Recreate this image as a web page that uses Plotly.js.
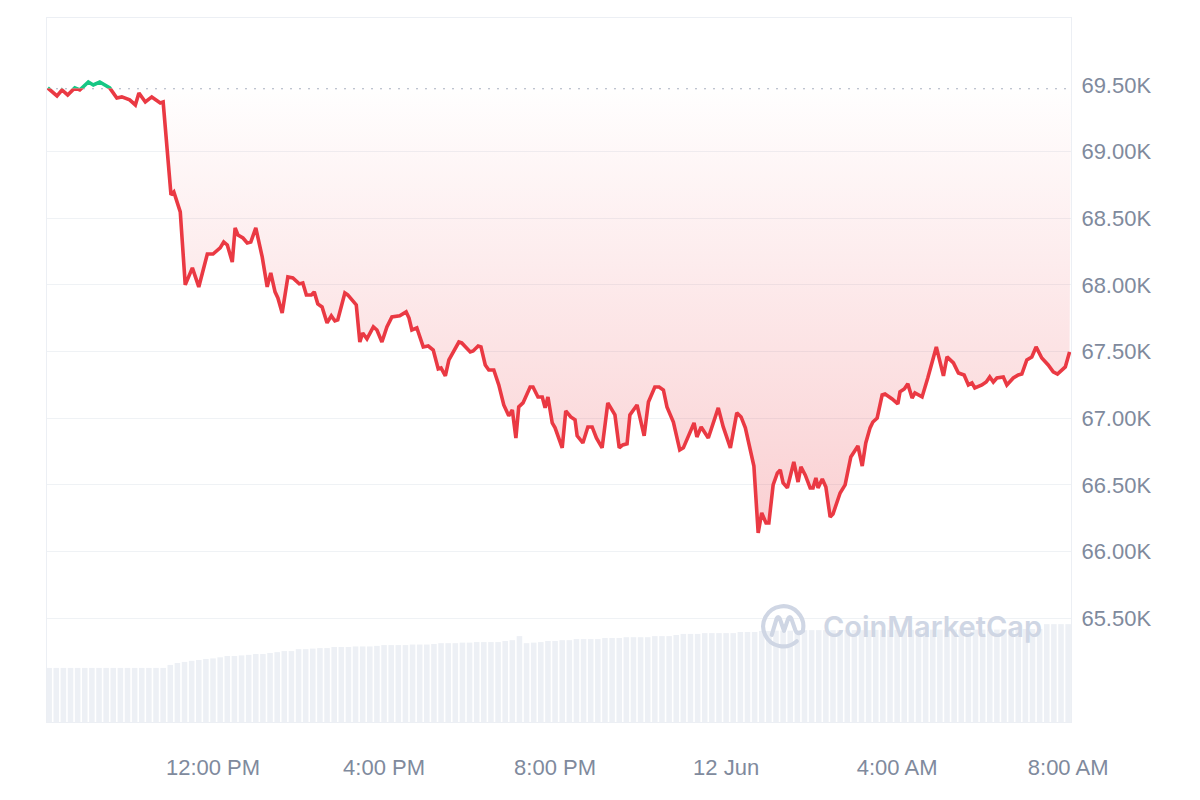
<!DOCTYPE html>
<html>
<head>
<meta charset="utf-8">
<script src="https://cdn.plot.ly/plotly-3.0.1.min.js"></script>
<style>html,body{margin:0;padding:0;background:#fff;}#chart{width:1200px;height:800px;}</style>
</head>
<body>
<div id="chart"></div>
<script>
// ---- Data ----
const openPrice = 69475;
const timesJun11 = [
 "08:08","08:21","08:28","08:36","08:46","08:53","09:05","09:12","09:21","09:28",
 "09:35","09:45","09:52","10:03","10:11","10:16","10:25","10:34","10:46","10:50",
 "10:55","11:01","11:05","11:14","11:21","11:31","11:40","11:52","12:00","12:10",
 "12:15","12:20","12:27","12:31","12:35","12:42","12:48","12:53","13:00","13:09",
 "13:16","13:21","13:27","13:31","13:37","13:45","13:52","14:01","14:06","14:11",
 "14:18","14:22","14:27","14:33","14:40","14:46","14:51","14:55","15:05","15:09",
 "15:21","15:26","15:30","15:36","15:45","15:50","15:57","16:04","16:11","16:22",
 "16:31","16:35","16:39","16:46","16:55","17:02","17:09","17:16","17:20","17:26",
 "17:31","17:35","17:45","17:49","18:01","18:05","18:12","18:16","18:22","18:27",
 "18:34","18:41","18:48","18:55","19:00","19:05","19:09","19:15","19:25","19:29",
 "19:36","19:42","19:46","19:50","19:56","20:00","20:10","20:15","20:22","20:28",
 "20:31","20:39","20:46","20:52","20:58","21:06","21:14","21:24","21:30","21:35",
 "21:41","21:45","21:55","22:05","22:11","22:20","22:26","22:32","22:37","22:46",
 "22:55","23:00","23:15","23:19","23:25","23:35","23:49","23:56"
];
const pricesJun11 = [
 69478,69418,69462,69425,69478,69462,69522,69500,69522,69500,
 69478,69402,69410,69388,69350,69440,69372,69410,69365,69372,
 69035,68675,68698,68548,68000,68128,67985,68232,68232,68278,
 68322,68300,68172,68428,68375,68352,68315,68322,68428,68210,
 67985,68090,67948,67902,67790,68060,68052,68008,68015,67925,
 67925,67948,67858,67835,67715,67768,67730,67738,67940,67925,
 67850,67572,67640,67595,67685,67662,67572,67685,67760,67768,
 67798,67752,67662,67678,67535,67542,67512,67370,67378,67318,
 67438,67475,67572,67565,67498,67505,67542,67535,67400,67362,
 67362,67250,67100,67018,67062,66852,67085,67115,67235,67235,
 67160,67160,67078,67160,66965,66928,66778,67055,67010,66988,
 66868,66815,66935,66935,66852,66778,67115,67025,66778,66800,
 66808,67025,67100,66868,67122,67235,67235,67212,67085,66972,
 66762,66778,66965,66860,66935,66852,67078,66935
];
const timesJun12 = [
 "00:06","00:15","00:21","00:27","00:31","00:39","00:45","00:50","00:56","01:00",
 "01:06","01:12","01:16","01:20","01:26","01:35","01:41","01:45","01:51","01:58",
 "02:02","02:06","02:09","02:15","02:20","02:26","02:30","02:36","02:40","02:47",
 "02:55","03:05","03:11","03:16","03:22","03:26","03:32","03:39","03:43","03:53",
 "04:01","04:04","04:10","04:15","04:21","04:25","04:35","04:43","04:55","05:05",
 "05:10","05:19","05:26","05:34","05:40","05:45","05:49","05:59","06:05","06:10",
 "06:15","06:20","06:29","06:34","06:43","06:50","06:55","07:02","07:09","07:15",
 "07:23","07:32","07:39","07:45","07:52","07:56","08:02"
];
const pricesJun12 = [
 66778,67040,67010,66928,66838,66642,66140,66290,66215,66215,
 66500,66590,66612,66515,66478,66672,66522,66635,66575,66478,
 66478,66552,66478,66545,66485,66260,66282,66388,66440,66500,
 66710,66792,66642,66815,66928,66972,67002,67175,67182,67145,
 67108,67198,67220,67258,67152,67190,67160,67302,67535,67318,
 67460,67415,67340,67325,67250,67265,67228,67250,67272,67310,
 67272,67302,67310,67250,67302,67325,67332,67438,67460,67535,
 67452,67400,67348,67332,67370,67385,67498
];
// 24h volume (billions USD), one bar per 10 minutes starting 08:10
const volumeStart = "2024-06-11T08:10:00";
const volumeBillions = [
 19.9,19.9,19.9,19.9,19.9,19.9,19.9,19.9,19.9,19.9,
 19.9,19.9,19.9,19.9,19.9,19.9,19.9,21.0,21.7,22.1,
 22.5,22.8,23.2,23.4,23.8,24.3,24.3,24.5,24.7,25.0,
 25.0,25.4,25.7,26.1,26.1,26.8,26.8,27.0,27.2,27.2,
 27.6,27.6,27.6,27.8,27.8,27.8,28.0,28.3,28.3,28.3,
 28.3,28.5,28.5,28.5,28.7,29.0,29.0,29.0,29.2,29.2,
 29.4,29.4,29.4,29.4,29.8,30.1,31.6,29.0,29.2,29.4,
 29.8,29.8,30.1,30.1,30.5,30.5,30.5,30.5,30.9,30.9,
 30.9,31.2,31.2,31.2,31.2,31.6,31.6,31.6,32.0,32.4,
 32.4,32.4,32.7,32.7,32.7,32.7,32.7,33.1,33.1,33.1,
 33.5,33.5,33.6,33.6,33.6,33.8,33.8,33.8,33.8,33.8,
 33.8,33.8,33.8,33.8,33.8,33.8,33.9,33.9,33.9,33.9,
 33.9,33.9,34.0,34.0,34.0,34.0,34.0,34.0,34.0,34.0,
 34.0,34.0,34.0,34.0,34.2,34.2,34.2,34.2,34.2,34.2,
 36.0,36.0,36.0,36.0
];
const yTickVals = [65500,66000,66500,67000,67500,68000,68500,69000,69500];
const yTickText = ["65.50K","66.00K","66.50K","67.00K","67.50K","68.00K","68.50K","69.00K","69.50K"];
const xTickVals = ["2024-06-11 12:00","2024-06-11 16:00","2024-06-11 20:00","2024-06-12 00:00","2024-06-12 04:00","2024-06-12 08:00"];
const xTickText = ["12:00 PM","4:00 PM","8:00 PM","12 Jun","4:00 AM","8:00 AM"];

// ---- Build ----
const times = timesJun11.map(t => "2024-06-11 " + t).concat(timesJun12.map(t => "2024-06-12 " + t));
const prices = pricesJun11.concat(pricesJun12);
const xRange = ["2024-06-11 08:07", "2024-06-12 08:04"];
const yRange = [64722, 70002];
const volRange = [0, 259];

function pad(n){return (n<10?"0":"")+n;}
const vStart = new Date(volumeStart + "Z").getTime();
const volTimes = volumeBillions.map((v,i) => {
  const d = new Date(vStart + i*10*60000);
  return d.getUTCFullYear()+"-"+pad(d.getUTCMonth()+1)+"-"+pad(d.getUTCDate())+" "+pad(d.getUTCHours())+":"+pad(d.getUTCMinutes());
});

const RED = "#ea3943", GREEN = "#16c784";
const fb = (openPrice - yRange[0]) / (yRange[1] - yRange[0]);

const traces = [
  {type:"bar", x: volTimes, y: volumeBillions, yaxis:"y2", xaxis:"x",
   marker:{color:"#edf0f5", line:{width:0}}, hoverinfo:"skip", showlegend:false},
  {type:"scatter", mode:"lines", x:[xRange[0], xRange[1]], y:[openPrice, openPrice],
   line:{color:"#a7afbf", width:2, dash:"2px,7px"}, hoverinfo:"skip", showlegend:false},
  {type:"scatter", mode:"lines", x: times, y: prices, fill:"tonexty",
   fillgradient:{type:"vertical", colorscale:[[0,"rgba(234,57,67,0.24)"],[1,"rgba(234,57,67,0.0)"]]},
   line:{color:RED, width:3.6, shape:"linear"}, hoverinfo:"skip", showlegend:false},
  {type:"scatter", mode:"lines", x: times, y: prices, xaxis:"x", yaxis:"y3",
   line:{color:GREEN, width:3.6}, hoverinfo:"skip", showlegend:false}
];

const svgLogo = '<svg xmlns="http://www.w3.org/2000/svg" viewBox="0 0 48 48">' +
  '<g fill="none" stroke="#cfd6e4" stroke-width="4.2" stroke-linecap="round" stroke-linejoin="round">' +
  '<path d="M44 27.5 A20.5 20.5 0 1 0 37.5 39.5"/>' +
  '<path d="M12 33 L17 16.5 Q18.5 13 20.2 16.5 L24.5 29 L28.8 16.5 Q30.5 13 32 16.5 L36 28 Q38.5 34 44 29"/>' +
  '</g></svg>';

const layout = {
  width:1200, height:800,
  margin:{l:47, r:129, t:18, b:78, pad:0},
  paper_bgcolor:"#ffffff", plot_bgcolor:"#ffffff",
  font:{family:"Liberation Sans, Arial, sans-serif", color:"#808a9d", size:22},
  showlegend:false,
  bargap:0.22,
  xaxis:{type:"date", range:xRange, tickvals:xTickVals, ticktext:xTickText,
    showgrid:false, zeroline:false, showline:true, linecolor:"#eceff4", linewidth:1, mirror:true,
    ticks:"", ticklabelstandoff:26, tickfont:{size:22, color:"#808a9d"}, fixedrange:true},
  yaxis:{range:yRange, side:"right", tickvals:yTickVals, ticktext:yTickText,
    showgrid:true, gridcolor:"#eff2f5", gridwidth:1, zeroline:false,
    showline:true, linecolor:"#eceff4", linewidth:1, mirror:true,
    ticks:"", ticklabelstandoff:5, tickfont:{size:22, color:"#808a9d"}, fixedrange:true},
  yaxis2:{range:volRange, overlaying:"y", visible:false, fixedrange:true},
  yaxis3:{domain:[fb, 1], range:[openPrice, yRange[1]], anchor:"x", visible:false, fixedrange:true},
  images:[{source:"data:image/svg+xml;charset=utf-8," + encodeURIComponent(svgLogo),
    xref:"paper", yref:"paper", x:(760-47)/1024, y:(722-602)/704, sizex:47/1024, sizey:48/704,
    xanchor:"left", yanchor:"top", sizing:"contain", layer:"above"}],
  annotations:[{text:"CoinMarketCap", xref:"paper", yref:"paper",
    x:(821-47)/1024, y:(722-626)/704, xanchor:"left", yanchor:"middle", showarrow:false,
    font:{family:"Inter, Roboto, sans-serif", size:29, weight:600, color:"#cfd6e4"}}]
};

Plotly.newPlot("chart", traces, layout, {displayModeBar:false, staticPlot:true});
</script>
</body>
</html>
